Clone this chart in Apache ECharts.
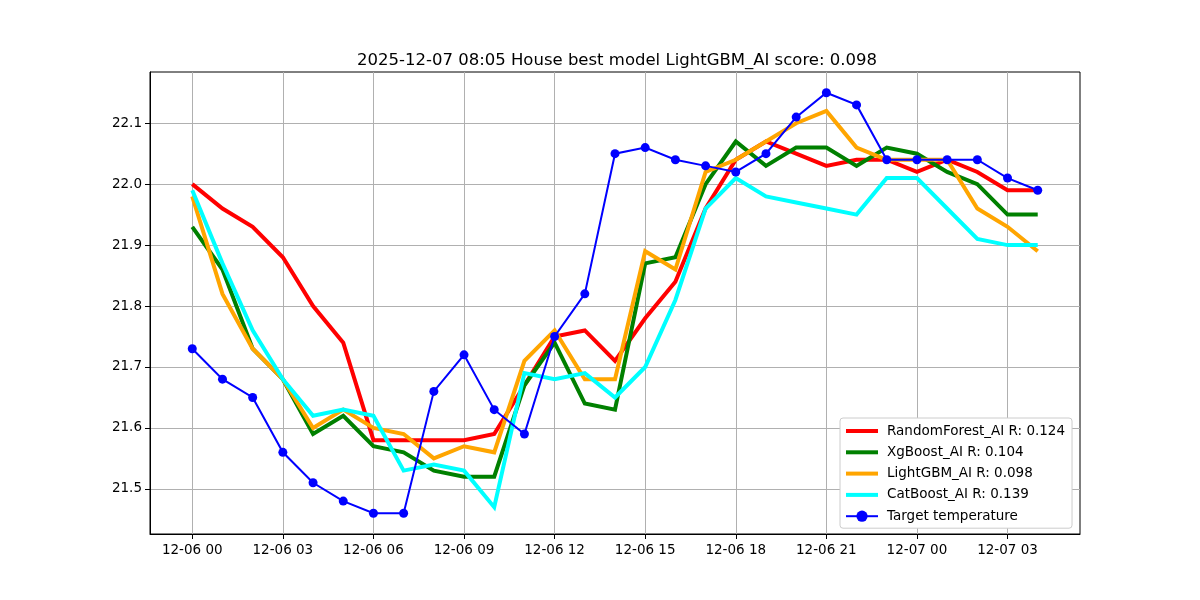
<!DOCTYPE html>
<html>
<head>
<meta charset="utf-8">
<script src="https://cdn.jsdelivr.net/npm/echarts@6/dist/echarts.min.js"></script>
<style>html,body{margin:0;padding:0;background:#fff;}#c{width:1200px;height:600px;}</style>
</head>
<body>
<div id="c"></div>
<script>
// Hours since 2025-12-06 00:00
const hours = [0,1,2,3,4,5,6,7,8,9,10,11,12,13,14,15,16,17,18,19,20,21,22,23,24,25,26,27,28];
const tickHours = [0,3,6,9,12,15,18,21,24,27];
const tickLabels = ["12-06 00","12-06 03","12-06 06","12-06 09","12-06 12","12-06 15","12-06 18","12-06 21","12-07 00","12-07 03"];
const yTicks = [21.5,21.6,21.7,21.8,21.9,22.0,22.1];

const randomForest = [22.00,21.96,21.93,21.88,21.80,21.74,21.58,21.58,21.58,21.58,21.59,21.67,21.75,21.76,21.71,21.78,21.84,21.96,22.04,22.07,22.05,22.03,22.04,22.04,22.02,22.04,22.02,21.99,21.99];
const xgBoost      = [21.93,21.86,21.73,21.68,21.59,21.62,21.57,21.56,21.53,21.52,21.52,21.67,21.74,21.64,21.63,21.87,21.88,22.00,22.07,22.03,22.06,22.06,22.03,22.06,22.05,22.02,22.00,21.95,21.95];
const lightGBM     = [21.98,21.82,21.73,21.68,21.60,21.63,21.60,21.59,21.55,21.57,21.56,21.71,21.76,21.68,21.68,21.89,21.86,22.02,22.04,22.07,22.10,22.12,22.06,22.04,22.04,22.04,21.96,21.93,21.89];
const catBoost     = [21.99,21.87,21.76,21.68,21.62,21.63,21.62,21.53,21.54,21.53,21.47,21.69,21.68,21.69,21.65,21.70,21.81,21.96,22.01,21.98,21.97,21.96,21.95,22.01,22.01,21.96,21.91,21.90,21.90];
const target       = [21.73,21.68,21.65,21.56,21.51,21.48,21.46,21.46,21.66,21.72,21.63,21.59,21.75,21.82,22.05,22.06,22.04,22.03,22.02,22.05,22.11,22.15,22.13,22.04,22.04,22.04,22.04,22.01,21.99];

const seriesNames = ["RandomForest_AI R: 0.124","XgBoost_AI R: 0.104","LightGBM_AI R: 0.098","CatBoost_AI R: 0.139","Target temperature"];
const seriesValues = [randomForest, xgBoost, lightGBM, catBoost, target];
const seriesColors = ["#ff0000","#008000","#ffa500","#00ffff","#0000ff"];

const FONT = "DejaVu Sans";
const chart = echarts.init(document.getElementById('c'), null, {renderer:'canvas'});

const series = seriesValues.map((vals, i) => {
  const isTarget = i === 4;
  return {
    name: seriesNames[i],
    type: 'line',
    data: hours.map((h, k) => [h, vals[k]]),
    symbol: isTarget ? 'circle' : 'none',
    symbolSize: 9,
    showSymbol: isTarget,
    lineStyle: {width: isTarget ? 2 : 4, color: seriesColors[i], cap: 'butt', join: 'miter'},
    itemStyle: {color: seriesColors[i]},
    emphasis: {disabled: true},
    z: 2 + i
  };
});

const legendData = seriesNames.map((n, i) => {
  const isTarget = i === 4;
  return isTarget
    ? {name: n, lineStyle: {width: 2, color: seriesColors[i]}, itemStyle: {color: seriesColors[i]}}
    : {name: n, lineStyle: {width: 4, color: seriesColors[i]}, itemStyle: {color: 'transparent', opacity: 0, borderWidth: 0}};
});

chart.setOption({
  animation: false,
  backgroundColor: '#ffffff',
  textStyle: {fontFamily: FONT},
  title: {
    text: "2025-12-07 08:05 House best model LightGBM_AI score: 0.098",
    left: 612, top: 47, textAlign: 'center',
    textStyle: {fontFamily: FONT, fontSize: 16.5, fontWeight: 'normal', color: '#000'}
  },
  grid: {left: 150, top: 72, width: 930, height: 462, show: true, borderColor: '#000', borderWidth: 1, backgroundColor: 'transparent'},
  xAxis: {
    type: 'value', min: -1.4, max: 29.4,
    axisLine: {show: true, onZero: false, lineStyle: {color: '#000', width: 1}},
    axisTick: {show: true, length: 5, lineStyle: {color: '#000'}, customValues: tickHours},
    axisLabel: {
      customValues: tickHours, margin: 9, color: '#000', fontFamily: FONT, fontSize: 13.5,
      formatter: v => tickLabels[tickHours.indexOf(Math.round(v))] || ''
    },
    splitLine: {show: true, lineStyle: {color: '#b0b0b0', width: 1}}
  },
  yAxis: {
    type: 'value', min: 21.426, max: 22.184,
    axisLine: {show: true, onZero: false, lineStyle: {color: '#000', width: 1}},
    axisTick: {show: true, length: 5, lineStyle: {color: '#000'}, customValues: yTicks},
    axisLabel: {
      customValues: yTicks, margin: 8, color: '#000', fontFamily: FONT, fontSize: 13.5,
      formatter: v => v.toFixed(1)
    },
    splitLine: {show: true, lineStyle: {color: '#b0b0b0', width: 1}}
  },
  legend: {
    orient: 'vertical', left: 840, top: 418,
    padding: [6, 7, 5, 4],
    itemWidth: 32, itemHeight: 14, itemGap: 7.3,
    backgroundColor: '#ffffff', borderColor: '#cccccc', borderWidth: 1, borderRadius: 3,
    textStyle: {fontFamily: FONT, fontSize: 13.5, color: '#000', padding: [0, 0, 0, 4]},
    data: legendData,
    selectedMode: false
  },
  series: series
});
</script>
</body>
</html>
